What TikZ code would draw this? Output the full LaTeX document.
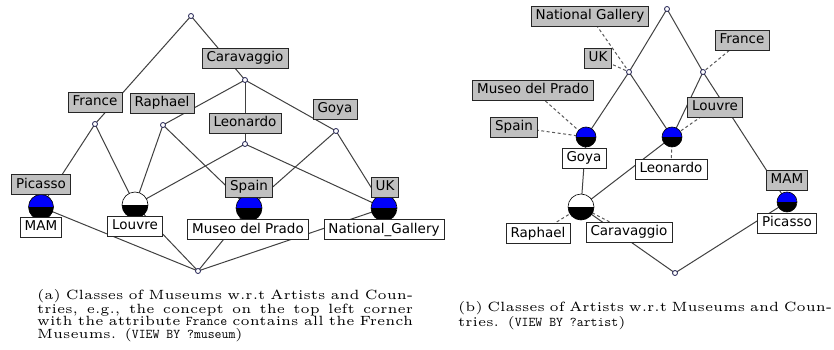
\documentclass[tikz,border=0pt]{standalone}
\usepackage{fontspec}
\newfontfamily\lblfont{DejaVu Sans}
\newfontfamily\capfont{lmroman5-regular.otf}
\usetikzlibrary{backgrounds}
\definecolor{lblgray}{RGB}{192,192,192}
\definecolor{edgec}{RGB}{65,65,65}
\definecolor{dashc}{RGB}{90,90,90}
\definecolor{nodec}{RGB}{30,30,80}
\definecolor{ballblue}{RGB}{0,0,250}
\begin{document}
\begin{tikzpicture}[x=1pt,y=-1pt,
  lbl/.style={draw=black!85, line width=0.8pt, font=\lblfont\fontsize{13.5}{15}\selectfont,
    inner xsep=4.5pt, inner ysep=0pt, minimum height=20pt, text height=10pt, text depth=2.8pt},
  attr/.style={lbl, fill=lblgray},
  obj/.style={lbl, fill=white},
  pt/.style={circle, draw=nodec, fill=white, line width=0.8pt, minimum size=5pt, inner sep=0pt},
  ball/.style={circle, draw=black, line width=0.6pt, inner sep=0pt, minimum size=#1,
    path picture={\fill[ballblue] (path picture bounding box.north west) rectangle (path picture bounding box.east);
      \fill[black] (path picture bounding box.west) rectangle (path picture bounding box.south east);}},
  wball/.style={circle, draw=black, line width=0.6pt, inner sep=0pt, minimum size=#1,
    path picture={\fill[white] (path picture bounding box.north west) rectangle (path picture bounding box.east);
      \fill[black] (path picture bounding box.west) rectangle (path picture bounding box.south east);}},
  lnk/.style={draw=edgec, line width=1pt},
  dsh/.style={draw=dashc, line width=1pt, dash pattern=on 3pt off 2.5pt},
  capbox/.style={anchor=north west, inner sep=0pt, font=\capfont\fontsize{13.4}{12.6}\selectfont},
]
\useasboundingbox (0,0) rectangle (834,350);

% ---------------- (a) ----------------
\node[pt] (topA) at (191,16) {};
\node[pt] (cCar) at (245,80) {};
\node[pt] (cFr) at (95,124) {};
\node[pt] (cRa) at (163,125) {};
\node[pt] (cLe) at (245,144) {};
\node[pt] (cGo) at (336,131) {};
\node[ball=25pt] (cMAM) at (41,207) {};
\node[wball=26pt] (cLou) at (135,205) {};
\node[ball=26pt] (cSp) at (249,208) {};
\node[ball=26pt] (cUK) at (384,208) {};
\node[pt] (botA) at (198,271) {};

\node[attr] (lCar) at (245,58) {Caravaggio};
\node[attr] (lFr) at (95,102) {France};
\node[attr] (lRa) at (162,103) {Raphael};
\node[attr] (lLe) at (245,123) {Leonardo};
\node[attr] (lGo) at (335,109) {Goya};
\node[attr] (lPi) at (41,184.5) {Picasso};
\node[obj] (lMAM) at (41,227) {MAM};
\node[obj] (lLou) at (135,226) {Louvre};
\node[attr] (lSp) at (249,187) {Spain};
\node[obj] (lMP) at (248,229.5) {Museo del Prado};
\node[attr] (lUK) at (385,187) {UK};
\node[obj] (lNG) at (384,229.5) {National\_Gallery};

% ---------------- (b) ----------------
\node[pt] (topB) at (667,9) {};
\node[pt] (cUKb) at (629,72) {};
\node[pt] (cFrb) at (703,72) {};
\node[ball=20pt] (cGob) at (586,137) {};
\node[ball=20pt] (cLeb) at (672,137) {};
\node[ball=20pt] (cMAMb) at (787,202) {};
\node[wball=26pt] (cRCb) at (581,207) {};
\node[pt] (botB) at (675,273) {};

\node[attr] (lNGb) at (590,16) {National Gallery};
\node[attr] (lUKb) at (598,58) {UK};
\node[attr] (lFrb) at (742,40) {France};
\node[attr] (lMPb) at (533,90) {Museo del Prado};
\node[attr] (lSpb) at (514,127) {Spain};
\node[obj] (lGob) at (584,158) {Goya};
\node[attr] (lLoub) at (715,107) {Louvre};
\node[obj] (lLeb) at (671,169) {Leonardo};
\node[attr] (lMAMb) at (787,180) {MAM};
\node[obj] (lPib) at (787,223) {Picasso};
\node[obj] (lRab) at (538,233.5) {Raphael};
\node[obj] (lCab) at (629,232) {Caravaggio};

% ---------------- captions ----------------
\node[capbox] (capA) at (37,289) {\vbox{%
  \hbox to 376pt{(a) Classes of Museums w.r.t Artists and Coun-}%
  \hbox to 376pt{tries, e.g., the concept on the top left corner}%
  \hbox to 376pt{with the attribute \texttt{France} contains all the French}%
  \hbox{Museums. (\texttt{VIEW BY ?museum})}}};
\node[capbox] (capB) at (458,301.6) {\vbox{%
  \hbox to 374pt{(b) Classes of Artists w.r.t Museums and Coun-}%
  \hbox{tries. (\texttt{VIEW BY ?artist})}}};

\begin{pgfonlayer}{background}
\fill[white] (0,0) rectangle (834,350);
% (a) links
\foreach \a/\b in {topA/cCar, topA/cFr, cCar/cRa, cCar/cLe, cCar/cGo, cFr/cMAM, cFr/cLou,
  cRa/cLou, cRa/cSp, cLe/cLou, cLe/cUK, cGo/cSp, cGo/cUK, cMAM/botA, cLou/botA, cSp/botA, cUK/botA}
  \draw[lnk] (\a.center) -- (\b.center);
% (b) links
\foreach \a/\b in {topB/cUKb, topB/cFrb, cUKb/cGob, cUKb/cLeb, cFrb/cLeb, cFrb/cMAMb,
  cGob/cRCb, cLeb/cRCb, cRCb/botB, cMAMb/botB}
  \draw[lnk] (\a.center) -- (\b.center);
\foreach \a/\b in {lNGb/cUKb, lUKb/cUKb, lFrb/cFrb, lMPb/cGob, lSpb/cGob, lLoub/cLeb,
  lLeb/cLeb, lRab/cRCb, lCab/cRCb}
  \draw[dsh] (\a.center) -- (\b.center);
\end{pgfonlayer}
\end{tikzpicture}
\end{document}
